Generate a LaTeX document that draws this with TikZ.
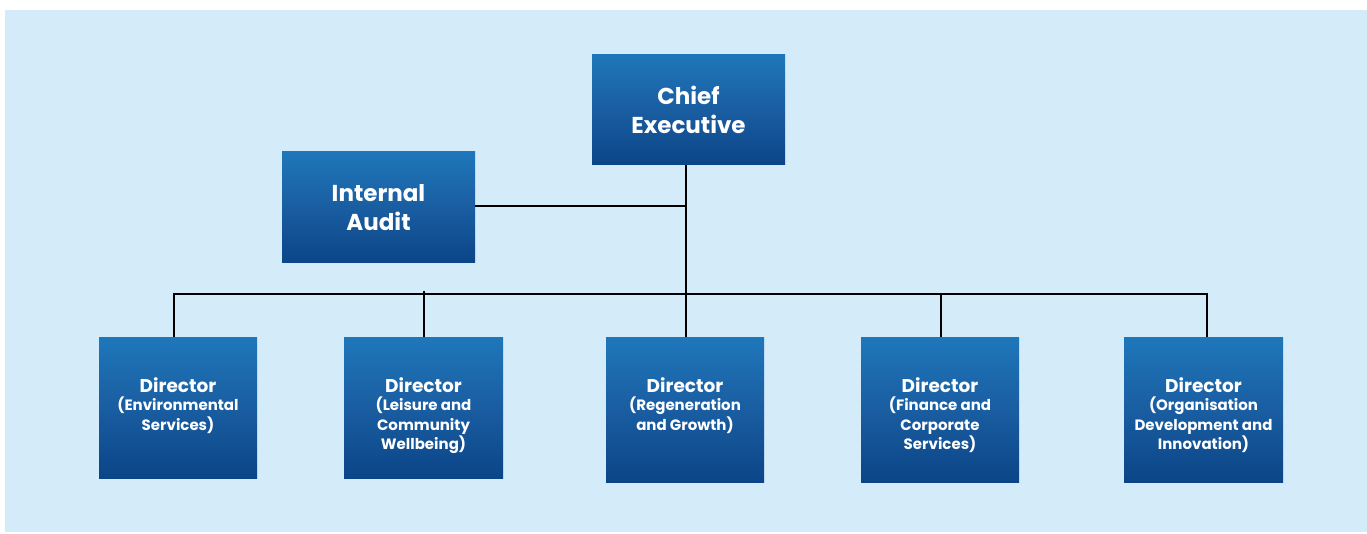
\documentclass[tikz,border=0pt]{standalone}
\usepackage{fontspec}
\setmainfont{Poppins}
\definecolor{bgblue}{HTML}{D4EBFA}
\definecolor{boxtop}{HTML}{1E77BA}
\definecolor{boxmid}{HTML}{1A5DA1}
\definecolor{boxbot}{HTML}{0A4587}
\tikzset{
  orgbox/.style={draw=none, inner sep=0pt, top color=boxtop, bottom color=boxbot, middle color=boxmid},
  titletext/.style={text=white, align=center, font=\fontsize{23}{28.5}\selectfont\bfseries},
  dirtext/.style={text=white, align=center, inner sep=0pt, anchor=north, font=\fontsize{15}{19.7}\selectfont\bfseries},
  conn/.style={draw=black, line width=2pt},
}
\newcommand{\dirhead}{{\fontsize{18.5}{19.7}\selectfont Director}}
\begin{document}
\begin{tikzpicture}[x=1pt,y=-1pt]
\useasboundingbox (0,0) rectangle (1367,534);
\fill[bgblue] (5,10) rectangle (1367,532);
% top boxes
\node[orgbox, minimum width=193pt, minimum height=110pt] (ce) at (688.5,110) {};
\node[titletext] (cet) at (ce.center) {Chief\\Executive};
\node[orgbox, minimum width=193pt, minimum height=111pt] (ia) at (378.5,207.5) {};
\node[titletext] (iat) at (ia.center) {Internal\\Audit};
% director boxes
\node[orgbox, minimum width=158pt, minimum height=141pt] (env) at (178,407.5) {};
\node[orgbox, minimum width=159pt, minimum height=141pt] (lei) at (423.5,407.5) {};
\node[orgbox, minimum width=158pt, minimum height=145pt] (reg) at (685,409.5) {};
\node[orgbox, minimum width=158pt, minimum height=145pt] (fin) at (940,409.5) {};
\node[orgbox, minimum width=159pt, minimum height=145pt] (od) at (1203.5,409.5) {};
\node[dirtext] (envt) at ([yshift=-41pt]env.north) {\dirhead\\[-2pt](Environmental\\Services)};
\node[dirtext] (leit) at ([yshift=-41pt]lei.north) {\dirhead\\[-2pt](Leisure and\\Community\\Wellbeing)};
\node[dirtext] (regt) at ([yshift=-41pt]reg.north) {\dirhead\\[-2pt](Regeneration\\and Growth)};
\node[dirtext] (fint) at ([yshift=-41pt]fin.north) {\dirhead\\[-2pt](Finance and\\Corporate\\Services)};
\node[dirtext] (odt) at ([yshift=-41pt]od.north) {\dirhead\\[-2pt](Organisation\\Development and\\Innovation)};
% connectors
\coordinate (bus) at (686,294);
\draw[conn] ([xshift=-2.5pt]ce.south) -- ([xshift=1pt]reg.north);
\draw[conn] ([yshift=1.5pt]ia.east) -- ([yshift=1.5pt]ia.east -| bus);
\draw[conn] ([xshift=-4pt]env.north) |- ([xshift=3.5pt]od.north |- bus) -- ([xshift=3.5pt]od.north);
\draw[conn] ([yshift=3pt]lei.north |- bus) -- (lei.north);
\draw[conn] ([xshift=1pt]fin.north |- bus) -- ([xshift=1pt]fin.north);
\end{tikzpicture}
\end{document}
